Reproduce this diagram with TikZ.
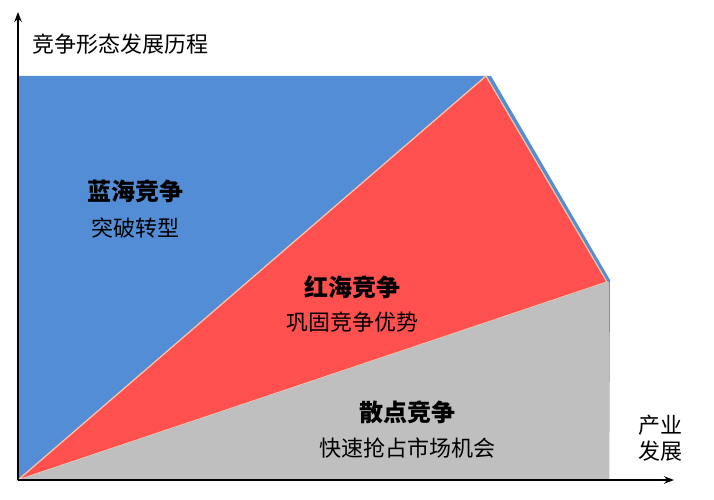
\documentclass[tikz,border=0pt]{standalone}
\usepackage{fontspec}
\setmainfont{Noto Sans CJK SC}
\usetikzlibrary{arrows.meta}
\begin{document}
\begin{tikzpicture}[x=1pt,y=-1pt,
  lab/.style={font=\fontsize{22}{26}\selectfont, align=center, inner sep=0pt},
  bl/.style={font=\fontsize{24}{28}\selectfont\bfseries, inner sep=0pt}]
\useasboundingbox (0,0) rectangle (714,500);
\coordinate (o) at (18,480);
\coordinate (tl) at (18,76);
\coordinate (tr) at (491,76);
\coordinate (ra) at (486,76);
\coordinate (rb) at (607,282);
\coordinate (gb) at (609,282);
\coordinate (gc) at (609,480);
\fill[fill={rgb,255:red,83;green,141;blue,213}] (o) -- (tl) -- (tr) -- (610,280) -- (gc) -- cycle;
\fill[fill={rgb,255:red,255;green,80;blue,80}, draw={rgb,255:red,250;green,200;blue,170}, line width=1.2pt] (o) -- (ra) -- (rb) -- cycle;
\fill[fill={rgb,255:red,191;green,191;blue,191}] (o) -- (rb) -- (gb) -- (gc) -- cycle;
\draw[line width=2pt,-{Stealth[length=10pt]}] (o) -- (18,12) coordinate (ytop);
\draw[line width=2pt,-{Stealth[length=10pt]}] (o) -- (674,480) coordinate (xend);
\node[lab,anchor=west] (yl) at (32,44) {竞争形态发展历程};
\node[lab] (xl) at (660,438) {产业\\发展};
\node[bl] (b1) at (135,191) {蓝海竞争};
\node[lab] (b2) at (135,228) {突破转型};
\node[bl] (r1) at (352,287) {红海竞争};
\node[lab] (r2) at (352,322) {巩固竞争优势};
\node[bl] (g1) at (407,412) {散点竞争};
\node[lab] (g2) at (407,448) {快速抢占市场机会};
\end{tikzpicture}
\end{document}
